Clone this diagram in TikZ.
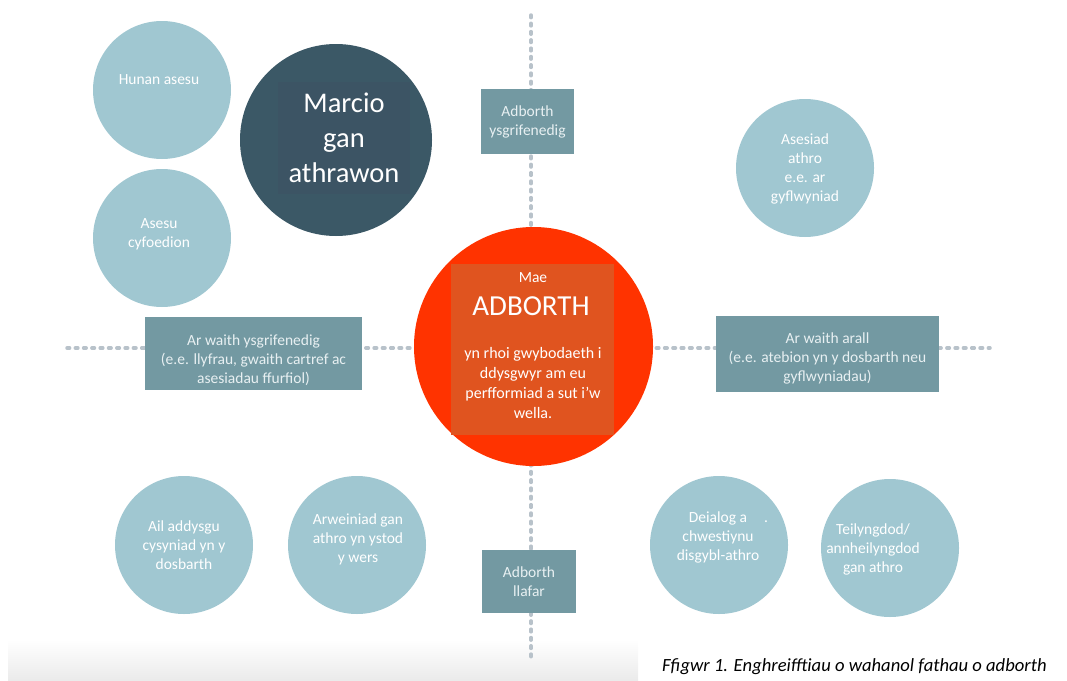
\documentclass[tikz,border=0pt]{standalone}
\usepackage{fontspec}
\setmainfont{Carlito}
\usepackage{xcolor}
\usetikzlibrary{positioning}

\definecolor{bubblefill}{HTML}{A0C7D1}
\definecolor{boxfill}{HTML}{7399A2}
\definecolor{boxtext}{HTML}{E8F0F2}
\definecolor{redfill}{HTML}{FF3300}
\definecolor{redsquare}{HTML}{E0541F}
\definecolor{darkfill}{HTML}{3B5866}
\definecolor{darksquare}{HTML}{3C5464}
\definecolor{axisgray}{HTML}{B8C2CA}

\begin{document}
\begin{tikzpicture}[
    x=1pt, y=-1pt,
    bubble/.style={circle, fill=bubblefill, minimum size=138pt, inner sep=0pt},
    bubbletxt/.style={text=white, align=center, inner sep=0pt, font=\fontsize{15.5}{19}\selectfont},
    box/.style={rectangle, fill=boxfill, inner sep=0pt},
    boxtxt/.style={text=boxtext, align=center, inner sep=0pt, font=\fontsize{15.5}{19}\selectfont},
    bigtxt/.style={text=white, align=center, inner sep=0pt, font=\fontsize{29}{35}\selectfont},
    axis/.style={draw=axisgray, line width=3.5pt, line cap=round, dash pattern=on 2.6pt off 5.7pt},
    caption/.style={inner sep=0pt, font=\fontsize{18.6}{22}\selectfont\itshape}
]
\useasboundingbox (0,0) rectangle (1067,680);

% Bottom shadow and caption
\shade[top color=white, bottom color=black!8] (8,640) rectangle (638,680);
\node[caption, anchor=west] (caption) at (662,667) {Ffigwr 1. Enghreifftiau o wahanol fathau o adborth};

% Axes
\coordinate (axis-top) at (531,15);
\coordinate (axis-bottom) at (531,658);
\coordinate (axis-left) at (67,348);
\coordinate (axis-right) at (990,348);
\draw[axis] (axis-top) -- (axis-bottom);
\draw[axis] (axis-left) -- (axis-right);

% Centre
\node[circle, fill=redfill, minimum size=239pt, inner sep=0pt] (adborth) at (533.5,346.5) {};
\node[rectangle, fill=redsquare, minimum width=163pt, minimum height=171pt, inner sep=0pt] (adborth-sq) at (532.5,349.5) {};
\node[bubbletxt] (mae) at (533,278) {Mae};
\node[bigtxt] (adborth-t) at (531,306) {ADBORTH};
\node[bubbletxt, font=\fontsize{16}{20}\selectfont] (adborth-body) at (533,383) {yn rhoi gwybodaeth i\\ddysgwyr am eu\\perfformiad a sut i’w\\wella.};

% Marcio gan athrawon
\node[circle, fill=darkfill, minimum size=192pt, inner sep=0pt] (marcio) at (336,140) {};
\node[rectangle, fill=darksquare, minimum width=132pt, minimum height=112pt, inner sep=0pt] (marcio-sq) at (344,138) {};
\node[bigtxt, font=\fontsize{28.5}{35}\selectfont] (marcio-t) at (344,138) {Marcio\\gan\\athrawon};

% Bubbles
\node[bubble] (hunan) at (162,90) {};
\node[bubbletxt] (hunan-t) at (159,80) {Hunan asesu};
\node[bubble] (cyfoedion) at (162,238) {};
\node[bubbletxt] (cyfoedion-t) at (159,234) {Asesu\\cyfoedion};
\node[bubble] (asesiad) at (805,168) {};
\node[bubbletxt] (asesiad-t) at (805,169) {Asesiad\\athro\\e.e. ar\\gyflwyniad};
\node[bubble] (ail) at (184,545) {};
\node[bubbletxt] (ail-t) at (184,545) {Ail addysgu\\cysyniad yn y\\dosbarth};
\node[bubble] (arweiniad) at (357,545) {};
\node[bubbletxt] (arweiniad-t) at (358,539) {Arweiniad gan\\athro yn ystod\\y wers};
\node[bubble] (deialog) at (719,545) {};
\node[bubbletxt] (deialog-t) at (718,537) {Deialog a\\chwestiynu\\disgybl-athro};
\node[bubbletxt] (deialog-dot) at (766,522) {.};
\node[bubble] (teilyngdod) at (890,548) {};
\node[bubbletxt] (teilyngdod-t) at (873,549) {Teilyngdod/\\annheilyngdod\\gan athro};

% Boxes
\node[box, minimum width=93pt, minimum height=65pt] (ysgrif) at (527.5,121.5) {};
\node[boxtxt] (ysgrif-t) at (527.5,121.5) {Adborth\\ysgrifenedig};
\node[box, minimum width=94pt, minimum height=63pt] (llafar) at (529,581.5) {};
\node[boxtxt] (llafar-t) at (529,581.5) {Adborth\\llafar};
\node[box, minimum width=217pt, minimum height=73pt] (gwaith-ysgrif) at (253.5,353.5) {};
\node[boxtxt] (gwaith-ysgrif-t) at (253.5,360) {Ar waith ysgrifenedig\\(e.e. llyfrau, gwaith cartref ac\\asesiadau ffurfiol)};
\node[box, minimum width=223pt, minimum height=76pt] (gwaith-arall) at (827.5,354) {};
\node[boxtxt] (gwaith-arall-t) at (827.5,358) {Ar waith arall\\(e.e. atebion yn y dosbarth neu\\gyflwyniadau)};

\end{tikzpicture}
\end{document}
